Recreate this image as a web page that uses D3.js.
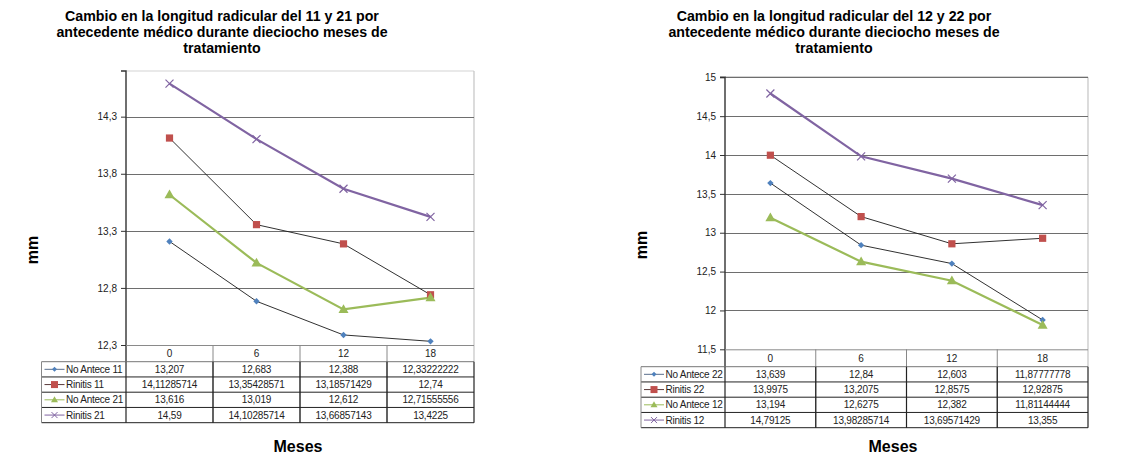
<!DOCTYPE html>
<html>
<head>
<meta charset="utf-8">
<script src="https://cdn.jsdelivr.net/npm/d3@7"></script>
<style>
  html, body { margin: 0; padding: 0; background: #fff; }
  svg { display: block; font-family: "Liberation Sans", Arial, sans-serif; }
</style>
</head>
<body>
<svg id="chart" width="1137" height="457"></svg>
<script>
// Months of treatment (shared category axis)
const meses = ["0", "6", "12", "18"];

// Teeth 11 and 21
const noAntece11 = [13.207, 12.683, 12.388, 12.33222222];
const rinitis11  = [14.11285714, 13.35428571, 13.18571429, 12.74];
const noAntece21 = [13.616, 13.019, 12.612, 12.71555556];
const rinitis21  = [14.59, 14.10285714, 13.66857143, 13.4225];

// Teeth 12 and 22
const noAntece22 = [13.639, 12.84, 12.603, 11.87777778];
const rinitis22  = [13.9975, 13.2075, 12.8575, 12.92875];
const noAntece12 = [13.194, 12.6275, 12.382, 11.81144444];
const rinitis12  = [14.79125, 13.98285714, 13.69571429, 13.355];

// Value-axis ticks
const ticksLeft  = [12.3, 12.8, 13.3, 13.8, 14.3];
const ticksRight = [11.5, 12, 12.5, 13, 13.5, 14, 14.5, 15];

const titleLeft  = ["Cambio en la longitud radicular del 11 y 21 por", "antecedente médico durante dieciocho meses de", "tratamiento"];
const titleRight = ["Cambio en la longitud radicular del 12 y 22 por", "antecedente médico durante dieciocho meses de", "tratamiento"];

const fmt = v => String(v).replace(".", ",");

// Series styles
const styles = {
  noAntA: { marker: "diamond",  fill: "#4F81BD", line: "#1a1a1a", width: 0.9, key: "#5a6f8c" },
  rinA:   { marker: "square",   fill: "#C0504D", line: "#1a1a1a", width: 0.9, key: "#5a3a3a" },
  noAntB: { marker: "triangle", fill: "#9BBB59", line: "#9BBB59", width: 2.2, key: "#9BBB59" },
  rinB:   { marker: "cross",    fill: "#8064A2", line: "#8064A2", width: 2.2, key: "#8064A2" }
};

const svg = d3.select("#chart");

function marker(g, type, color, cx, cy) {
  if (type === "diamond") {
    g.append("path").attr("d", d3.symbol(d3.symbolDiamond2, 26)())
      .attr("transform", `translate(${cx},${cy})`).attr("fill", color);
  } else if (type === "square") {
    g.append("rect").attr("x", cx - 3.6).attr("y", cy - 3.6).attr("width", 7.2).attr("height", 7.2)
      .attr("fill", color);
  } else if (type === "triangle") {
    g.append("path").attr("d", `M${cx},${cy - 5.2}L${cx + 5},${cy + 3.6}L${cx - 5},${cy + 3.6}Z`)
      .attr("fill", color);
  } else if (type === "cross") {
    const r = 4;
    g.append("path").attr("d", `M${cx - r},${cy - r}L${cx + r},${cy + r}M${cx - r},${cy + r}L${cx + r},${cy - r}`)
      .attr("stroke", color).attr("stroke-width", 1.2).attr("fill", "none");
  }
}

function drawChart(cfg) {
  const g = svg.append("g");
  const x = d3.scaleBand().domain(meses).range([cfg.x0, cfg.x1]);
  const y = d3.scaleLinear().domain(cfg.domain).range([cfg.y1, cfg.y0]);
  const cx = m => x(m) + x.bandwidth() / 2;

  // Title
  g.append("text").attr("text-anchor", "middle").attr("font-weight", "bold").attr("font-size", 14.2)
    .selectAll("tspan").data(cfg.title).join("tspan")
    .attr("x", cfg.titleX).attr("y", (d, i) => cfg.titleY + i * 16.2).text(d => d);

  // Plot frame: top and right border
  g.append("line").attr("x1", cfg.x0).attr("x2", cfg.x1).attr("y1", cfg.y0).attr("y2", cfg.y0)
    .attr("stroke", cfg.topColor).attr("stroke-width", 1.2);
  g.append("line").attr("x1", cfg.x1).attr("x2", cfg.x1).attr("y1", cfg.y0).attr("y2", cfg.y1 + cfg.headerH)
    .attr("stroke", "#c4c4c4").attr("stroke-width", 1.2);

  // Horizontal gridlines
  g.append("g").selectAll("line").data(cfg.ticks.filter(t => t !== cfg.domain[0]))
    .join("line")
    .attr("x1", cfg.x0).attr("x2", cfg.x1)
    .attr("y1", d => Math.round(y(d)) + 0.5).attr("y2", d => Math.round(y(d)) + 0.5)
    .attr("stroke", "#6e6e6e").attr("stroke-width", 1);

  // Value axis
  const axis = d3.axisLeft(y).tickValues(cfg.ticks).tickFormat(fmt).tickSize(5).tickPadding(4);
  const ag = g.append("g").attr("transform", `translate(${cfg.x0},0)`).call(axis);
  ag.select(".domain").attr("stroke", "#333").attr("stroke-width", 1.4);
  ag.selectAll(".tick line").attr("stroke", "#333");
  ag.selectAll(".tick text").attr("font-size", 10).attr("fill", "#222")
    .attr("font-family", "Liberation Sans, Arial, sans-serif");
  ag.select(".domain").attr("d", `M-5,${cfg.y0}H0V${cfg.y1 + cfg.headerH}`);

  // Series lines and markers
  cfg.series.forEach(s => {
    const st = styles[s.style];
    const line = d3.line().x((d, i) => cx(meses[i])).y(d => y(d));
    g.append("path").attr("d", line(s.values)).attr("fill", "none")
      .attr("stroke", st.line).attr("stroke-width", st.width);
  });
  cfg.series.forEach(s => {
    const st = styles[s.style];
    s.values.forEach((v, i) => marker(g, st.marker, st.fill, cx(meses[i]), y(v)));
  });

  // Data table below the plot
  const tY = cfg.y1;
  const rowsTop = tY + cfg.headerH;
  const rowsBottom = rowsTop + cfg.rowH * cfg.series.length;
  const t = g.append("g");

  // Header row
  t.append("line").attr("x1", cfg.x0).attr("x2", cfg.x1).attr("y1", tY + 0.5).attr("y2", tY + 0.5)
    .attr("stroke", "#8a8a8a");
  meses.slice(1).forEach(m => {
    t.append("line").attr("x1", x(m)).attr("x2", x(m)).attr("y1", tY).attr("y2", rowsBottom)
      .attr("stroke", "#888").attr("stroke-width", 1);
  });
  t.selectAll("text.h").data(meses).join("text").attr("class", "h")
    .attr("x", d => cx(d)).attr("y", tY + cfg.headerH / 2 + 3.5).attr("text-anchor", "middle")
    .attr("font-size", 10).attr("fill", "#222").text(d => d);

  // Body grid
  for (let i = 0; i <= cfg.series.length; i++) {
    const yy = rowsTop + i * cfg.rowH;
    t.append("line").attr("x1", cfg.tableLeft).attr("x2", cfg.x1).attr("y1", yy).attr("y2", yy)
      .attr("stroke", i === 0 ? "#777" : "#222").attr("stroke-width", 1);
  }
  t.append("line").attr("x1", cfg.tableLeft).attr("x2", cfg.tableLeft).attr("y1", rowsTop).attr("y2", rowsBottom)
    .attr("stroke", "#888");
  [cfg.x0].concat(meses.slice(1).map(m => x(m))).concat([cfg.x1]).forEach(xx => {
    t.append("line").attr("x1", xx).attr("x2", xx).attr("y1", rowsTop).attr("y2", rowsBottom)
      .attr("stroke", "#222").attr("stroke-width", 1.2);
  });

  cfg.series.forEach((s, r) => {
    const st = styles[s.style];
    const yc = rowsTop + r * cfg.rowH + cfg.rowH / 2;
    // Legend key
    t.append("line").attr("x1", cfg.tableLeft + 3).attr("x2", cfg.tableLeft + 23).attr("y1", yc).attr("y2", yc)
      .attr("stroke", st.key).attr("stroke-width", 1);
    const mk = t.append("g");
    if (st.marker === "diamond") {
      mk.append("path").attr("d", d3.symbol(d3.symbolDiamond2, 16)()).attr("transform", `translate(${cfg.tableLeft + 13},${yc})`).attr("fill", st.fill);
    } else if (st.marker === "square") {
      mk.append("rect").attr("x", cfg.tableLeft + 9.5).attr("y", yc - 3.5).attr("width", 7).attr("height", 7).attr("fill", st.fill);
    } else if (st.marker === "triangle") {
      const c = cfg.tableLeft + 13;
      mk.append("path").attr("d", `M${c},${yc - 3.5}L${c + 3.5},${yc + 2.5}L${c - 3.5},${yc + 2.5}Z`).attr("fill", st.fill);
    } else {
      const c = cfg.tableLeft + 13, r2 = 3;
      mk.append("path").attr("d", `M${c - r2},${yc - r2}L${c + r2},${yc + r2}M${c - r2},${yc + r2}L${c + r2},${yc - r2}`)
        .attr("stroke", st.fill).attr("stroke-width", 1);
    }
    t.append("text").attr("x", cfg.tableLeft + 24.5).attr("y", yc + 3.5).attr("font-size", 10)
      .attr("fill", "#222").attr("letter-spacing", -0.25).text(s.name);
    // Values
    s.values.forEach((v, i) => {
      t.append("text").attr("x", cx(meses[i])).attr("y", yc + 3.5).attr("text-anchor", "middle")
        .attr("font-size", 10).attr("fill", "#222").attr("letter-spacing", -0.2).text(fmt(v));
    });
  });

  // Axis titles
  g.append("text").attr("transform", `translate(${cfg.mmX},${cfg.mmY}) rotate(-90)`)
    .attr("text-anchor", "middle").attr("font-weight", "bold").attr("font-size", 16).text("mm");
  g.append("text").attr("x", cfg.mesesX).attr("y", cfg.mesesY).attr("text-anchor", "middle")
    .attr("font-weight", "bold").attr("font-size", 16).text("Meses");
}

drawChart({
  title: titleLeft, titleX: 222, titleY: 21,
  x0: 126, x1: 474, y0: 71, y1: 345,
  domain: [12.3, 14.7], ticks: ticksLeft, topColor: "#d4d4d4",
  tableLeft: 41.5, headerH: 16.7, rowH: 15.25,
  mmX: 38, mmY: 250, mesesX: 298, mesesY: 452,
  series: [
    { name: "No Antece 11", values: noAntece11, style: "noAntA" },
    { name: "Rinitis 11",   values: rinitis11,  style: "rinA" },
    { name: "No Antece 21", values: noAntece21, style: "noAntB" },
    { name: "Rinitis 21",   values: rinitis21,  style: "rinB" }
  ]
});

drawChart({
  title: titleRight, titleX: 834, titleY: 21,
  x0: 725, x1: 1088, y0: 77.3, y1: 349.3,
  domain: [11.5, 15], ticks: ticksRight, topColor: "#555",
  tableLeft: 641, headerH: 17.4, rowH: 15.25,
  mmX: 647, mmY: 245, mesesX: 893, mesesY: 452,
  series: [
    { name: "No Antece 22", values: noAntece22, style: "noAntA" },
    { name: "Rinitis 22",   values: rinitis22,  style: "rinA" },
    { name: "No Antece 12", values: noAntece12, style: "noAntB" },
    { name: "Rinitis 12",   values: rinitis12,  style: "rinB" }
  ]
});
</script>
</body>
</html>
